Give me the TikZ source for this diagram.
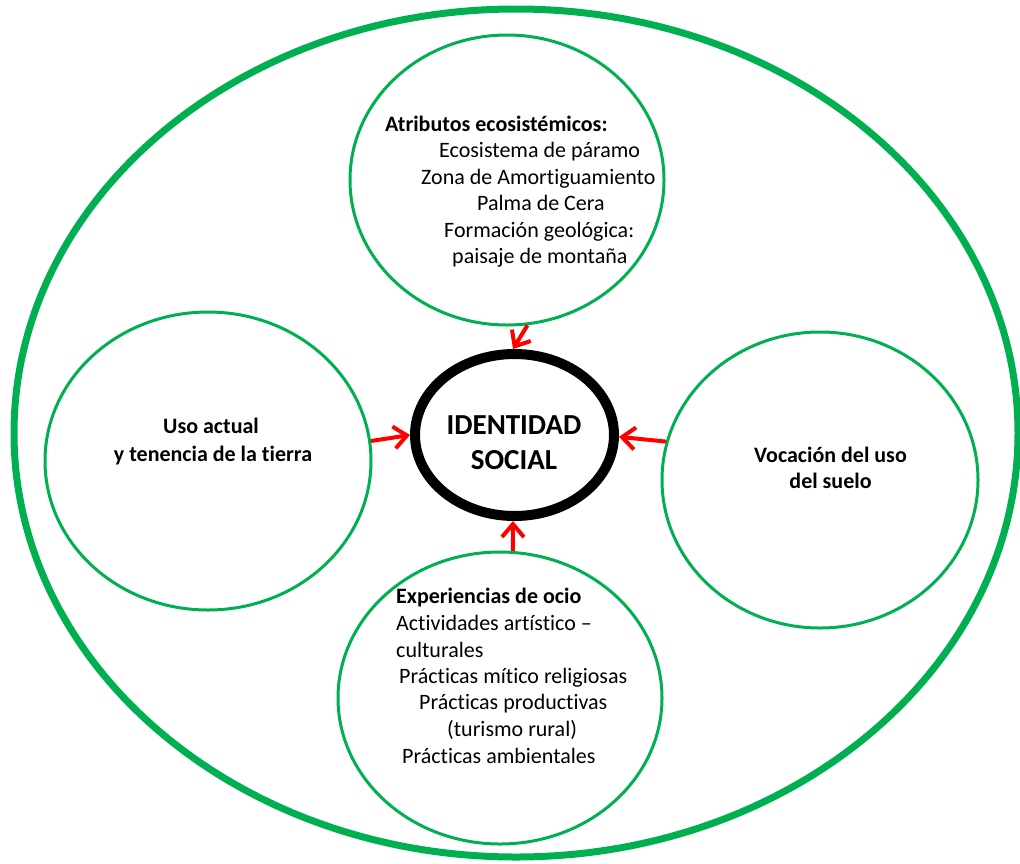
\documentclass[tikz,border=0pt]{standalone}
\usepackage{fontspec}
\setmainfont{Carlito}[Ligatures=NoCommon]
\usetikzlibrary{arrows.meta,shapes.geometric}
\definecolor{ogreen}{RGB}{0,176,80}
\definecolor{ored}{RGB}{255,0,0}
\begin{document}
\begin{tikzpicture}[x=1pt,y=-1pt,
  bub/.style={ellipse,draw=ogreen,line width=3pt,inner sep=0pt},
  txt/.style={inner sep=0pt,anchor=base west,font=\fontsize{22}{26.5}\selectfont},
  ctxt/.style={inner sep=0pt,anchor=base,font=\fontsize{22}{26.5}\selectfont\bfseries},
  arr/.style={draw=ored,line width=4pt,-{Straight Barb[length=13pt,width=22pt]}}]
\useasboundingbox (0,0) rectangle (1020,863);
% outer ellipse
\node[ellipse,draw=ogreen,line width=7pt,minimum width=1004pt,minimum height=848pt,inner sep=0pt] (outer) at (516,433) {};
% bubbles
\node[bub,minimum width=314pt,minimum height=290pt] (top) at (507,180) {};
\node[bub,minimum width=326pt,minimum height=298pt] (left) at (208,461) {};
\node[bub,minimum width=316pt,minimum height=296pt] (right) at (820,480) {};
\node[bub,minimum width=324pt,minimum height=292pt] (bot) at (500,698) {};
% centre
\node[ellipse,draw=black,line width=10pt,minimum width=199pt,minimum height=162pt,inner sep=0pt] (ctr) at (514.5,435) {};
% arrows
\draw[arr] (top.-82) -- (ctr.91);
\draw[arr] (left.7) -- (ctr.180);
\draw[arr] (right.166) -- (ctr.-1);
\draw[arr] (bot.85) -- (ctr.-91);
% centre text
\node[inner sep=0pt,anchor=base,font=\fontsize{29}{35}\selectfont\bfseries] (id1) at (514,434) {IDENTIDAD};
\node[inner sep=0pt,anchor=base,font=\fontsize{29}{35}\selectfont\bfseries] (id2) at (514,469) {SOCIAL};
% top text
\node[txt,font=\fontsize{22}{26.5}\selectfont\bfseries] (t1) at (385,131.5) {Atributos ecosistémicos:};
\node[txt] (t2) at (439,157.8) {Ecosistema de páramo};
\node[txt] (t3) at (421,184) {Zona de Amortiguamiento};
\node[txt] (t4) at (477,210.5) {Palma de Cera};
\node[txt] (t5) at (444,237) {Formación geológica:};
\node[txt] (t6) at (452,263) {paisaje de montaña};
% left text
\node[ctxt] (l1) at (211,433) {Uso actual};
\node[ctxt] (l2) at (213,461) {y tenencia de la tierra};
% right text
\node[ctxt] (r1) at (830.5,462) {Vocación del uso};
\node[ctxt] (r2) at (830.5,488) {del suelo};
% bottom text
\node[txt,font=\fontsize{22}{26.5}\selectfont\bfseries] (b1) at (396,603) {Experiencias de ocio};
\node[txt] (b2) at (396,630) {Actividades artístico –};
\node[txt] (b3) at (396,657) {culturales};
\node[txt] (b4) at (399,683) {Prácticas mítico religiosas};
\node[txt] (b5) at (419,709) {Prácticas productivas};
\node[txt] (b6) at (447,736) {(turismo rural)};
\node[txt] (b7) at (402,763) {Prácticas ambientales};
\end{tikzpicture}
\end{document}
